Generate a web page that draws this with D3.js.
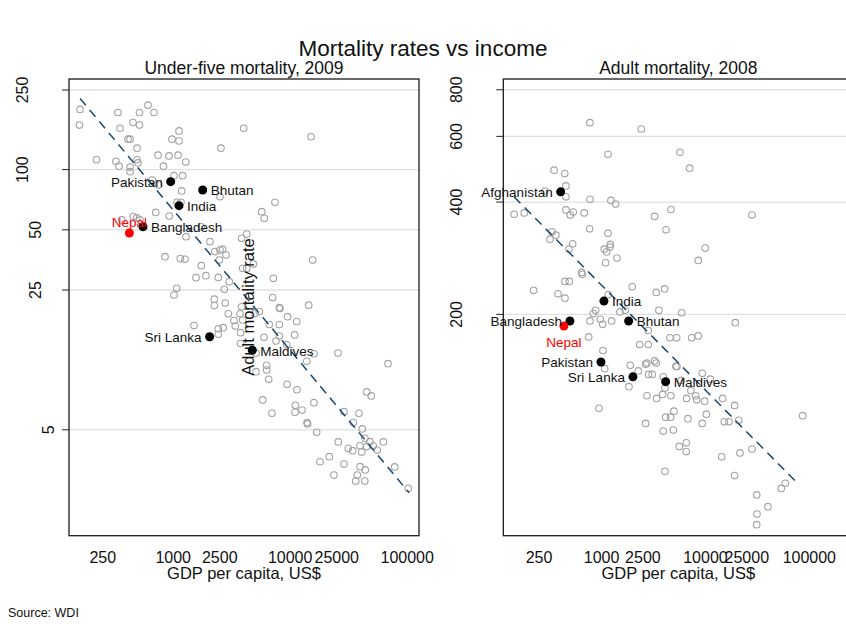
<!DOCTYPE html>
<html><head><meta charset="utf-8">
<script src="https://cdn.jsdelivr.net/npm/d3@7"></script>
<style>body{margin:0;background:#fff}svg text{font-family:Arial,"Liberation Sans",Helvetica,sans-serif}</style>
</head><body><svg id="c" width="846" height="624"></svg>
<script>
// ---------- data ----------
const xTicks = [250, 1000, 2500, 10000, 25000, 100000];
const u5Ticks = [5, 25, 50, 100, 250];
const adTicks = [200, 400, 600, 800];

const u5Gdp = [160,158,221,337,351,453,515,515,609,685,411,428,491,324,344,428,428,491,500,742,921,1100,1280,826,977,1121,1121,2560,4005,15060,1016,1205,663,752,1182,2512,1077,1166,709,926,456,488,363,520,1286,1738,2063,851,1150,1261,1738,1567,1906,2429,3016,2733,2270,2512,2648,2827,2478,3846,4250,3926,4250,4842,7178,5706,6000,7413,15560,1016,1071,2247,2247,2786,2956,3311,3396,3724,3846,3926,3766,3766,1506,2429,2680,2429,5000,5445,5970,6622,7080,8075,8185,8075,8075,7568,9500,11370,10920,9333,14390,5104,5104,6295,6295,6547,5821,6982,9420,11430,13840,15960,25620,68550,15960,11060,10990,12620,13930,14100,16830,45080,49320,28840,38730,34600,41300,25770,31390,34200,40840,39540,45080,48080,51290,55460,62500,43550,17980,21590,28840,39540,43800,78200,23660,37500,36300,43350,102300];
const u5Mort = [200,167,112,193,161,172,167,193,210,193,142,142,128,110,104,103,97.6,112,108,118,117,118,109,104,142,139,156,128,161,146,93.2,93.2,88.7,83.7,78.2,73.2,68.6,68.6,61.1,58.6,58.2,57.3,56.0,56.0,46.2,51.8,43.6,36.7,35.9,35.6,33.1,28.8,29.5,28.9,27.5,25.2,38.9,39.6,40.0,37.4,35.3,45.3,47.6,32.1,32.0,33.7,28.6,61.6,57.1,68.6,35.3,23.6,25.5,22.5,20.9,21.5,19.0,17.6,16.5,19.0,20.6,17.7,15.3,13.5,16.6,16.0,16.2,15.0,19.1,19.5,14.5,16.8,22.9,20.4,20.2,16.8,14.7,13.9,18.4,17.4,14.9,13.3,21.0,12.1,9.76,10.5,9.95,8.94,7.05,6.05,8.44,7.93,11.0,12.0,12.1,10.7,6.83,6.63,6.12,6.28,5.43,5.35,4.86,7.73,7.38,6.16,6.05,5.43,5.05,4.35,4.04,3.93,3.87,4.16,4.12,4.36,4.16,3.96,4.35,4.53,3.46,3.67,3.37,3.27,3.15,3.26,2.97,2.97,2.77,2.77,2.55];

const adGdp = [773,2411,1153,5686,7047,349,442,454,285,454,773,1231,1366,144,180,454,534,500,681,3241,4654,28050,768,1153,4169,333,364,319,527,485,1213,1205,1062,1119,1406,1094,9960,8527,643,652,444,489,222,381,444,1974,3358,4048,1160,877,832,1503,1691,3565,5902,773,971,1025,1250,2813,19360,751,4552,5281,7367,8527,1031,2326,2813,1071,1889,2254,2656,2735,3241,3358,5316,5200,2838,3073,3924,1836,4076,3870,4654,2735,3388,5851,6590,8047,8227,9825,7251,9317,11130,14640,19080,944,4975,4140,4623,6787,10190,9317,2656,3924,4899,15180,16830,20880,86250,5598,6535,6535,14310,21490,28050,4076,19080,53720,58650,31130,39990,31340,31130];
const adMort = [653,628,537,544,493,487,477,442,428,413,407,404,395,371,374,381,376,369,374,366,382,369,339,330,337,333,326,318,309,299,308,303,299,294,283,275,301,279,259,256,245,245,232,227,221,237,229,234,226,205,201,203,205,205,202,192,194,188,192,181,190,174,173,173,173,175,160,166,166,143,146,141,147,148,150,148,145,145,138,138,136,128,127,122,121,121,119,133,119,121,118,117,125,139,134,119,114,112,110,106,106,105,108,102,102,97.3,97.9,103,103,104,107,88.5,90.5,85.7,83.0,85.0,87.1,75.9,73.9,68.3,70.5,65.6,61.0,58.3,54.6];

const u5HlNames = ["Pakistan","Bhutan","India","Bangladesh","Nepal","Sri Lanka","Maldives"];
const u5HlGdp = [952,1787,1121,552,422,2049,4745];
const u5HlMort = [87.0,79.1,66.0,51.8,48.2,14.6,12.5];
const adHlNames = ["Afghanistan","India","Bangladesh","Nepal","Bhutan","Pakistan","Sri Lanka","Maldives"];
const adHlGdp = [404,1054,496,434,1823,987,2004,4140];
const adHlMort = [426,217,192,186,192,149,136,132];

const u5FitGdp = [160, 104000];
const u5FitMort = [227, 2.42];
const adFitGdp = [144, 78200];
const adFitMort = [413, 70.2];

// ---------- drawing ----------
const svg = d3.select("#c");
svg.append("rect").attr("width",846).attr("height",624).attr("fill","#fff");

function panel(cfg){
  const g = svg.append("g");
  const x = d3.scaleLog().domain(cfg.xDom).range([cfg.x0, cfg.x1]);
  const y = d3.scaleLog().domain(cfg.yDom).range([cfg.y1, cfg.y0]);

  // gridlines
  g.selectAll(".grid").data(cfg.yTicks).join("line")
    .attr("x1",cfg.x0).attr("x2",cfg.x1)
    .attr("y1",d=>y(d)).attr("y2",d=>y(d))
    .attr("stroke","#e1e1e1").attr("stroke-width",1.3);

  // y axis ticks & labels
  g.selectAll(".yt").data(cfg.yTicks).join("line")
    .attr("x1",cfg.x0-7).attr("x2",cfg.x0)
    .attr("y1",d=>y(d)).attr("y2",d=>y(d))
    .attr("stroke","#222").attr("stroke-width",1);
  g.selectAll(".yl").data(cfg.yTicks).join("text")
    .attr("transform",d=>`translate(${cfg.x0-8-13*String(d).length},${y(d)}) rotate(-90)`)
    .attr("dy","0.35em").attr("text-anchor","middle")
    .attr("font-size",16).attr("fill","#111").text(d=>d);

  // x axis labels
  g.selectAll(".xl").data(xTicks).join("text")
    .attr("x",d=>x(d)).attr("y",562.5).attr("text-anchor","middle")
    .attr("font-size",16).attr("fill","#111").text(d=>d);

  // axis title
  g.append("text").attr("x",cfg.x0+175).attr("y",579)
    .attr("text-anchor","middle").attr("font-size",16.5).attr("fill","#111")
    .text("GDP per capita, US$");
  // subtitle
  g.append("text").attr("x",cfg.x0+175).attr("y",74)
    .attr("text-anchor","middle").attr("font-size",17.5).attr("fill","#111")
    .text(cfg.subtitle);

  // scatter
  const idx = d3.range(cfg.gdp.length);
  g.selectAll(".pt").data(idx).join("circle")
    .attr("cx",i=>x(cfg.gdp[i])).attr("cy",i=>y(cfg.mort[i])).attr("r",3.3)
    .attr("fill","none").attr("stroke","#a3a3a3").attr("stroke-width",1.1);

  // fit line
  const line = d3.line().x(i=>x(cfg.fitX[i])).y(i=>y(cfg.fitY[i]));
  g.append("path").attr("d",line([0,1])).attr("fill","none")
    .attr("stroke","#1a476f").attr("stroke-width",1.5).attr("stroke-dasharray","9,6");

  // highlighted
  const hi = d3.range(cfg.hlNames.length);
  g.selectAll(".hl").data(hi).join("circle")
    .attr("cx",i=>x(cfg.hlGdp[i])).attr("cy",i=>y(cfg.hlMort[i])).attr("r",4.5)
    .attr("fill",i=>cfg.hlNames[i]==="Nepal"?"#ff0000":"#000");
  g.selectAll(".hlt").data(hi).join("text")
    .attr("x",i=>{const p=cfg.pos[cfg.hlNames[i]], cx=x(cfg.hlGdp[i]);
       return p==="E"?cx+8:p==="W"?cx-8:cx;})
    .attr("y",i=>{const p=cfg.pos[cfg.hlNames[i]], cy=y(cfg.hlMort[i]);
       return p==="N"?cy-5.7:p==="S"?cy+21:cy+5.3;})
    .attr("text-anchor",i=>{const p=cfg.pos[cfg.hlNames[i]];return p==="E"?"start":p==="W"?"end":"middle";})
    .attr("font-size",13.5)
    .attr("fill",i=>cfg.hlNames[i]==="Nepal"?"#ff0000":"#111")
    .text(i=>cfg.hlNames[i]);

  // frame
  g.append("rect").attr("x",cfg.x0).attr("y",cfg.y0)
    .attr("width",cfg.x1-cfg.x0).attr("height",cfg.y1-cfg.y0)
    .attr("fill","none").attr("stroke","#1a1a1a").attr("stroke-width",1.3);
  return g;
}

panel({
  x0:69, x1:419, y0:79, y1:535.7,
  xDom:[128.7,126160], yDom:[1.477,283.8], yTicks:u5Ticks,
  gdp:u5Gdp, mort:u5Mort, fitX:u5FitGdp, fitY:u5FitMort,
  hlNames:u5HlNames, hlGdp:u5HlGdp, hlMort:u5HlMort,
  pos:{"Pakistan":"W","Bhutan":"E","India":"E","Bangladesh":"E","Nepal":"N","Sri Lanka":"W","Maldives":"E"},
  subtitle:"Under-five mortality, 2009"
});
panel({
  x0:503.3, x1:853.3, y0:79, y1:535.7,
  xDom:[113.3,265000], yDom:[51.0,855], yTicks:adTicks,
  gdp:adGdp, mort:adMort, fitX:adFitGdp, fitY:adFitMort,
  hlNames:adHlNames, hlGdp:adHlGdp, hlMort:adHlMort,
  pos:{"Afghanistan":"W","India":"E","Bangladesh":"W","Nepal":"S","Bhutan":"E","Pakistan":"W","Sri Lanka":"W","Maldives":"E"},
  subtitle:"Adult mortality, 2008"
});

// misplaced y title of right panel (as in the original)
svg.append("text").attr("transform","translate(248,307) rotate(-90)")
  .attr("dy","0.35em").attr("text-anchor","middle").attr("font-size",16.5)
  .attr("fill","#111").text("Adult mortality rate");

// main title
svg.append("text").attr("x",423).attr("y",55.5).attr("text-anchor","middle")
  .attr("font-size",22.5).attr("fill","#111").text("Mortality rates vs income");

// source note
svg.append("text").attr("x",8).attr("y",617).attr("font-size",12.5)
  .attr("fill","#111").text("Source: WDI");
</script></body></html>
